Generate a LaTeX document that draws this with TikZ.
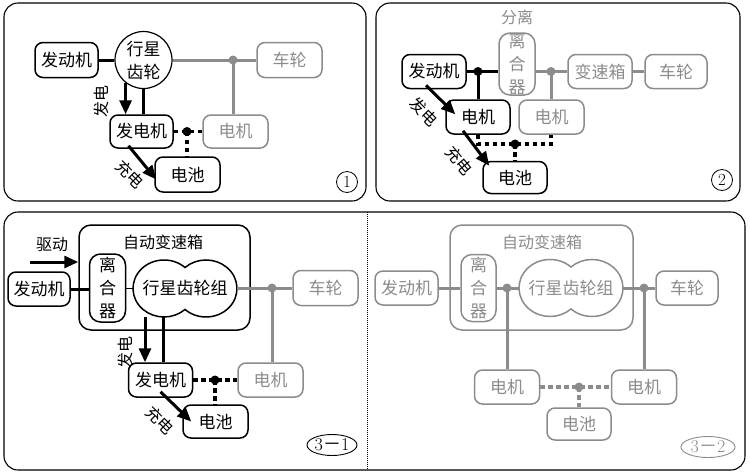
\documentclass[tikz,border=0pt]{standalone}
\usepackage{fontspec}
\newfontfamily\cjk{Noto Sans CJK SC}
\usetikzlibrary{arrows.meta,shapes.geometric}

\definecolor{gry}{gray}{0.55}

\tikzset{
  unit/.style={draw, line width=1.5pt, rounded corners=8pt, fill=white, inner sep=0pt,
    minimum width=64pt, minimum height=34pt, font=\cjk\fontsize{17}{20}\selectfont},
  gunit/.style={unit, draw=gry, text=gry},
  clutch/.style={unit, minimum width=36pt, minimum height=68pt, rounded corners=11pt,
    align=center, font=\cjk\fontsize{17}{23}\selectfont},
  gclutch/.style={clutch, draw=gry, text=gry},
  gearlbl/.style={inner sep=0pt, minimum width=104pt, minimum height=57pt,
    font=\cjk\fontsize{17}{20}\selectfont},
  lbl/.style={inner sep=0pt, font=\cjk\fontsize{16}{18}\selectfont},
  panel/.style={line width=1.1pt, rounded corners=14pt},
  link/.style={line width=3pt},
  glink/.style={line width=3pt, draw=gry},
  arr/.style={line width=3pt, -{Triangle[length=14pt,width=12pt]}},
  elec/.style={line width=3.2pt, dash pattern=on 4.5pt off 3.5pt},
  dot/.style={circle, fill, inner sep=0pt, minimum size=9pt},
  tag/.style={ellipse, draw, line width=0.9pt, inner sep=0pt, minimum width=50pt,
    minimum height=21pt, font=\fontsize{18}{18}\selectfont},
  numtag/.style={circle, draw, line width=0.8pt, inner sep=0pt, minimum size=21pt,
    font=\fontsize{17}{17}\selectfont},
}

\begin{document}
\begin{tikzpicture}[x=1pt, y=-1pt]
  \useasboundingbox (0,0) rectangle (750,475);

  % panel 1
  \draw[panel] (4,3) rectangle (366,201);
  \node[unit, minimum width=63pt, minimum height=35pt] (eng1) at (66.5,60) {发动机};
  \node[circle, draw, line width=1.2pt, fill=white, inner sep=0pt, minimum size=57pt,
    align=center, font=\cjk\fontsize{17}{23}\selectfont] (gear1) at (143.5,60) {行星\\齿轮};
  \node[gunit, minimum width=65pt, minimum height=35pt] (whl1) at (289.5,60) {车轮};
  \node[unit, minimum width=63pt, minimum height=33pt] (gen1) at (141.5,131.5) {发电机};
  \node[gunit, minimum width=65pt, minimum height=33pt] (mot1) at (235.5,131.5) {电机};
  \node[unit, minimum width=65pt, minimum height=35pt] (bat1) at (187.5,174.5) {电池};
  \coordinate (j1) at (233,60);
  \coordinate (k1) at (187,131.5);
  \draw[link] (eng1) -- (gear1);
  \draw[glink] (gear1) -- (whl1);
  \draw[glink] (j1) -- (j1 |- mot1.north);
  \draw[arr] (gear1.-128) -- (gear1.-128 |- gen1.north);
  \draw[link] (gear1.south) -- (gear1.south |- gen1.north);
  \draw[elec] (gen1) -- (mot1);
  \draw[elec] (k1) -- (bat1.north -| k1);
  \draw[arr] ([xshift=-13pt,yshift=3pt]gen1.south) -- ([xshift=2pt,yshift=-5pt]bat1.west);
  \node[dot, gry] at (j1) {};
  \node[dot] at (k1) {};
  \node[lbl, rotate=90] (l1a) at (101,101) {发电};
  \node[lbl, rotate=-45] (l1b) at (130,174) {充电};
  \node[numtag] (tag1) at (347,182) {1};

  % panel 2
  \draw[panel] (376,3) rectangle (740,201);
  \node[lbl, text=gry] (split2) at (517,17) {分离};
  \node[unit] (eng2) at (434,71.5) {发动机};
  \node[gclutch, minimum height=62pt] (clu2) at (517,64) {离\\合\\器};
  \node[gunit] (gbx2) at (600,71.5) {变速箱};
  \node[gunit, minimum width=62pt] (whl2) at (676,71.5) {车轮};
  \node[unit] (mot2a) at (478,117) {电机};
  \node[gunit, minimum width=65pt] (mot2b) at (551.5,117) {电机};
  \node[unit, minimum height=32pt] (bat2) at (515,177.5) {电池};
  \coordinate (j2a) at (478,71.5);
  \coordinate (j2b) at (551,71.5);
  \coordinate (k2) at (515,144);
  \draw[link] (eng2.east) -- (eng2.east -| clu2.west);
  \draw[link] (j2a) -- (j2a |- mot2a.north);
  \draw[glink] (gbx2.west -| clu2.east) -- (gbx2.west);
  \draw[glink] (gbx2) -- (whl2);
  \draw[glink] (j2b) -- (j2b |- mot2b.north);
  \draw[elec] (mot2a.south) -- (mot2a.south |- k2) -- (k2 -| j2b) -- (j2b |- mot2b.south);
  \draw[elec] (k2) -- (bat2.north);
  \draw[arr] ([xshift=-8pt,yshift=4pt]eng2.south) -- ([xshift=10pt,yshift=-15pt]mot2a.north west);
  \draw[arr] ([xshift=-15pt,yshift=4pt]mot2a.south) -- ([xshift=7pt,yshift=-5pt]bat2.north west);
  \node[dot] at (j2a) {};
  \node[dot, gry] at (j2b) {};
  \node[dot] at (k2) {};
  \node[lbl, rotate=-45] (l2a) at (424,112) {发电};
  \node[lbl, rotate=-50] (l2b) at (459,161) {充电};
  \node[numtag] (tag2) at (722,180) {2};

  % panel 3
  \draw[panel] (4,212) rectangle (745,470);
  \draw[line width=1pt, dash pattern=on 1pt off 1pt] (367,212) -- (367,470);

  % 3-1
  \node[unit, minimum width=171pt, minimum height=105pt, rounded corners=12pt] (auto31) at (164.5,277.5) {};
  \node[lbl] (title31) at (163,242) {自动变速箱};
  \node[unit, minimum width=62pt] (eng31) at (39,289) {发动机};
  \node[clutch] (clu31) at (107.5,288) {离\\合\\器};
  \node[gearlbl] (gear31) at (185,288.5) {行星齿轮组};
  \draw[line width=1.5pt] ([yshift=21pt]gear31.center)
    arc[start angle=47.4, end angle=312.6, x radius=31pt, y radius=28.5pt]
    arc[start angle=227.4, end angle=492.6, x radius=31pt, y radius=28.5pt] -- cycle;
  \node[gunit, minimum width=65pt, minimum height=35pt] (whl31) at (325.5,288) {车轮};
  \node[unit] (gen31) at (160.5,380) {发电机};
  \node[gunit, minimum width=65pt] (mot31) at (270.5,380) {电机};
  \node[unit, minimum width=65pt, minimum height=33pt] (bat31) at (215.5,421.5) {电池};
  \coordinate (j31) at (272,288);
  \coordinate (k31) at (215,380);
  \coordinate (drv) at (30,262);
  \draw[link] (eng31.east) -- (eng31.east -| clu31.west);
  \draw[line width=1.6pt] (clu31.east |- gear31.west) -- (gear31.west);
  \draw[glink] (gear31.east) -- (gear31.east -| whl31.west);
  \draw[glink] (j31) -- (j31 |- mot31.north);
  \draw[arr] (drv) -- (drv -| auto31.west);
  \node[lbl] (drvlbl) at (52,245) {驱动};
  \draw[arr] ([xshift=-40pt]gear31.south) -- ([xshift=-40pt]gear31.south |- gen31.north);
  \draw[link] ([xshift=-22pt]gear31.south) -- ([xshift=-22pt]gear31.south |- gen31.north);
  \draw[elec] (gen31) -- (mot31);
  \draw[elec] (k31) -- (k31 |- bat31.north);
  \draw[arr] ([yshift=6pt]gen31.south) -- ([xshift=9pt]bat31.west);
  \node[dot, gry] at (j31) {};
  \node[dot] at (k31) {};
  \node[lbl, rotate=90] (l31a) at (125,352) {发电};
  \node[lbl, rotate=-45] (l31b) at (160,420) {充电};
  \node[tag] (tag31) at (332,445) {3{\cjk －}1};

  % 3-2
  \node[gunit, minimum width=183pt, minimum height=105pt, rounded corners=12pt] (auto32) at (541.5,277.5) {};
  \node[lbl, text=gry] (title32) at (542,242) {自动变速箱};
  \node[gunit, minimum width=63pt] (eng32) at (406.5,288) {发动机};
  \node[gclutch, minimum width=35pt, minimum height=67pt] (clu32) at (478.5,288) {离\\合\\器};
  \node[gearlbl, text=gry] (gear32) at (571,288) {行星齿轮组};
  \draw[line width=1.5pt, gry] ([yshift=21pt]gear32.center)
    arc[start angle=47.4, end angle=312.6, x radius=31pt, y radius=28.5pt]
    arc[start angle=227.4, end angle=492.6, x radius=31pt, y radius=28.5pt] -- cycle;
  \node[gunit, minimum width=62pt] (whl32) at (687,288) {车轮};
  \node[gunit, minimum width=65pt] (mot32a) at (507,387) {电机};
  \node[gunit, minimum width=65pt] (mot32b) at (644,387) {电机};
  \node[gunit, minimum height=32pt] (bat32) at (579,424) {电池};
  \coordinate (j32a) at (507,288);
  \coordinate (j32b) at (644,288);
  \coordinate (k32) at (579,387);
  \draw[glink] (eng32) -- (clu32);
  \draw[glink] (clu32) -- (gear32);
  \draw[glink] (gear32) -- (whl32);
  \draw[glink] (j32a) -- (mot32a);
  \draw[glink] (j32b) -- (mot32b);
  \draw[elec, gry] (mot32a) -- (mot32b);
  \draw[elec, gry] (k32) -- (bat32);
  \node[dot, gry] at (j32a) {};
  \node[dot, gry] at (j32b) {};
  \node[dot, gry] at (k32) {};
  \node[tag, gry, text=gry, minimum width=54pt] (tag32) at (708,447) {3{\cjk －}2};
\end{tikzpicture}
\end{document}
